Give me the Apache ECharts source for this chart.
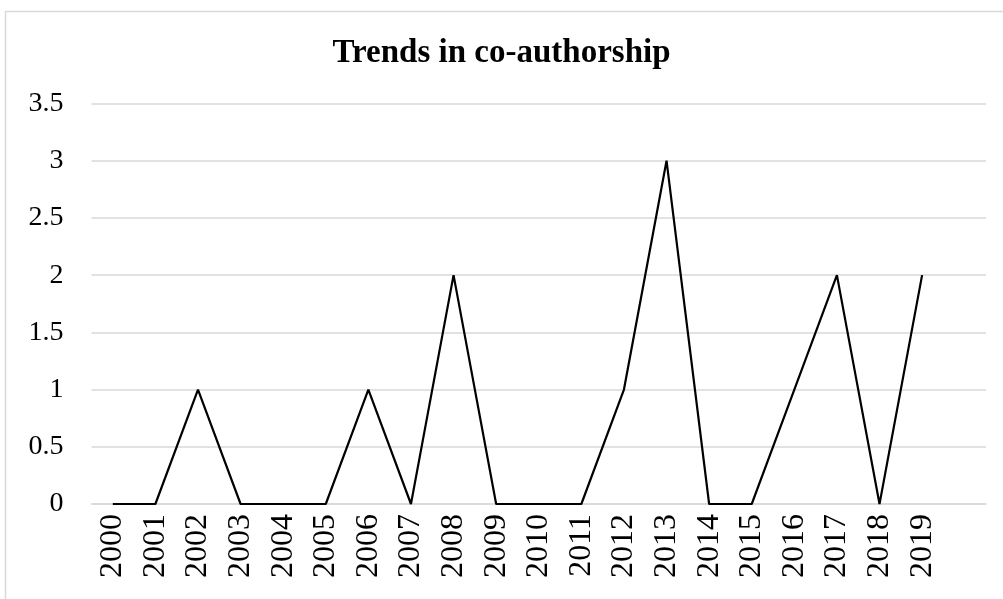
<!DOCTYPE html>
<html>
<head>
<meta charset="utf-8">
<script src="https://cdn.jsdelivr.net/npm/echarts@6/dist/echarts.min.js"></script>
<style>html,body{margin:0;padding:0;background:#fff;}#c{width:1003px;height:599px;}</style>
</head>
<body>
<div id="c"></div>
<script>
const titleText = 'Trends in co-authorship';
const years = ['2000','2001','2002','2003','2004','2005','2006','2007','2008','2009','2010','2011','2012','2013','2014','2015','2016','2017','2018','2019',''];
const values = [0,0,1,0,0,0,1,0,2,0,0,0,1,3,0,0,1,2,0,2];
const yTicks = [0,0.5,1,1.5,2,2.5,3,3.5];

const chart = echarts.init(document.getElementById('c'));
const font = 'Liberation Serif, Times New Roman, serif';
chart.setOption({
  animation: false,
  graphic: [{
    type: 'rect', shape: {x: 5.5, y: 11.5, width: 1100, height: 700},
    style: {fill: 'none', stroke: '#d9d9d9', lineWidth: 1.5}, z: -1
  }],
  title: {
    text: titleText, left: 'center', top: 32,
    textStyle: {fontFamily: font, fontWeight: 'bold', fontSize: 33, color: '#000'}
  },
  grid: {left: 91.5, right: 17, top: 103.5, bottom: 95},
  xAxis: {
    type: 'category', data: years, boundaryGap: true,
    axisLine: {show: true, lineStyle: {color: '#d9d9d9', width: 1.5}},
    axisTick: {show: false},
    axisLabel: {rotate: 90, interval: 0, margin: 10, fontFamily: font, fontSize: 32, color: '#000'}
  },
  yAxis: {
    type: 'value', min: yTicks[0], max: yTicks[yTicks.length-1], interval: 0.5,
    axisLine: {show: false}, axisTick: {show: false},
    splitLine: {lineStyle: {color: '#d9d9d9', width: 1.5}},
    axisLabel: {margin: 28, fontFamily: font, fontSize: 28, color: '#000'}
  },
  series: [{
    type: 'line', data: values, showSymbol: false, symbol: 'none',
    lineStyle: {color: '#000', width: 2.2}
  }]
});
</script>
</body>
</html>
